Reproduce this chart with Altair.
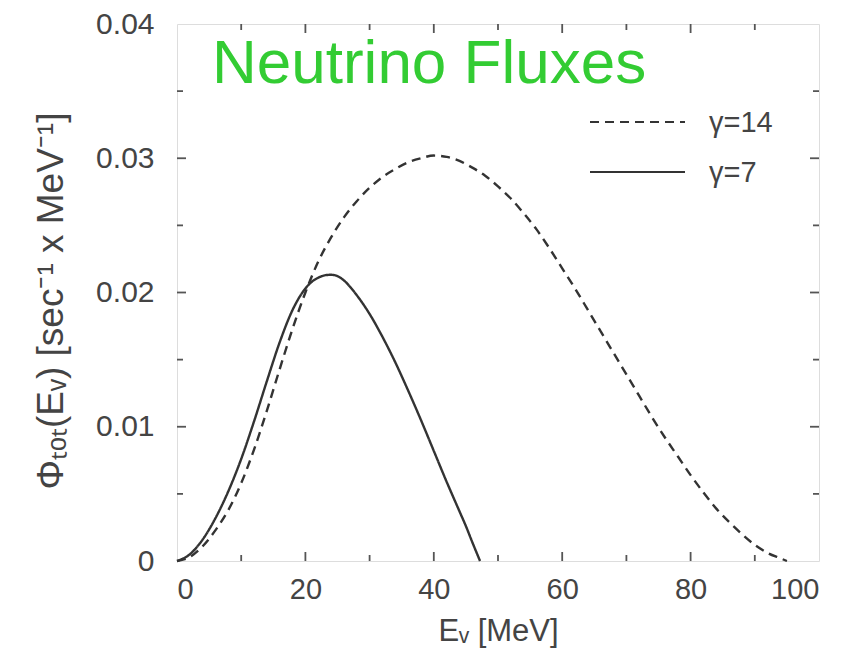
import altair as alt
import pandas as pd

# ---- data ----
energy_g14 = [0, 2, 4, 6, 8, 10, 12, 14, 16, 18, 20, 22, 24, 26, 28, 30, 32, 34, 36, 38, 40,
              42, 44, 46, 48, 50, 52, 54, 56, 58, 60, 62, 64, 66, 68, 70, 72, 74, 76, 78, 80,
              82, 84, 86, 88, 90, 92, 94, 95]
flux_g14 = [0.0, 0.0003, 0.0011, 0.0023, 0.0038, 0.0058, 0.0083, 0.0112, 0.0143, 0.0173, 0.0200,
            0.0223, 0.0241, 0.0256, 0.0268, 0.0278, 0.0286, 0.0292, 0.0297, 0.0300, 0.0302,
            0.0301, 0.0298, 0.0293, 0.0287, 0.0279, 0.0270, 0.0259, 0.0247, 0.0233, 0.0218,
            0.0203, 0.0187, 0.0171, 0.0155, 0.0139, 0.0123, 0.0107, 0.0092, 0.0078, 0.0064,
            0.0051, 0.0039, 0.0029, 0.0020, 0.0012, 0.0006, 0.0002, 0.0]

energy_g7 = [0, 2, 4, 6, 8, 10, 12, 14, 16, 18, 19, 20, 21, 22, 23, 24, 25, 26, 27, 28, 30, 32,
             34, 36, 38, 40, 42, 44, 45, 46, 47.2]
flux_g7 = [0.0, 0.0005, 0.0016, 0.0032, 0.0052, 0.0076, 0.0104, 0.0134, 0.0163, 0.0187, 0.0196,
           0.0203, 0.0208, 0.0211, 0.02128, 0.02132, 0.02122, 0.0209, 0.0204, 0.0198, 0.0184,
           0.0167, 0.0148, 0.0127, 0.0105, 0.0082, 0.0059, 0.0037, 0.0026, 0.0014, 0.0]

series_labels = ["γ=14", "γ=7"]
x_tick_labels = [0, 20, 40, 60, 80, 100]
y_tick_labels = [0, 0.01, 0.02, 0.03, 0.04]
x_major_ticks = [20, 40, 60, 80]
x_minor_ticks = [10, 30, 50, 70, 90]
y_major_ticks = [0.01, 0.02, 0.03]
y_minor_ticks = [0.005, 0.015, 0.025, 0.035]

W, H = 642, 537
LINE = "#333333"
FRAME = "#555555"
TXT = "#444444"
FONT = "Liberation Sans"

df = pd.concat([
    pd.DataFrame({"E": energy_g14, "flux": flux_g14, "series": series_labels[0]}),
    pd.DataFrame({"E": energy_g7, "flux": flux_g7, "series": series_labels[1]}),
])

xscale = alt.Scale(domain=[0, 100], nice=False, zero=False)
yscale = alt.Scale(domain=[0, 0.04], nice=False)

x_axis = alt.Axis(values=x_tick_labels, ticks=False, domain=False, grid=False,
                  labelFontSize=29, labelFont=FONT, labelColor=TXT, labelPadding=14,
                  title="Eᵥ [MeV]", titleFont=FONT, titleFontSize=31, titleFontWeight="normal",
                  titleColor=TXT, titleX=W / 2, titleY=79, titleBaseline="alphabetic")
y_axis = alt.Axis(values=y_tick_labels, ticks=False, domain=False, grid=False,
                  labelFontSize=30, labelFont=FONT, labelColor=TXT, labelPadding=23,
                  labelExpr="datum.value == 0 ? '0' : format(datum.value, '.2f')",
                  title="Φₜₒₜ(Eᵥ) [sec⁻¹ x MeV⁻¹]", titleFont=FONT, titleFontSize=37,
                  titleFontWeight="normal", titleColor=TXT, titleAngle=-90,
                  titleX=-115, titleY=H / 2 + 8, titleBaseline="alphabetic")

lines = alt.Chart(df).mark_line(color=LINE, strokeWidth=2.4, interpolate="monotone").encode(
    x=alt.X("E:Q", scale=xscale, axis=x_axis),
    y=alt.Y("flux:Q", scale=yscale, axis=y_axis),
    strokeDash=alt.StrokeDash("series:N", scale=alt.Scale(domain=series_labels,
                                                          range=[[9, 6], [1, 0]]), legend=None),
)


def xticks(vals, y0, y1):
    return alt.Chart(pd.DataFrame({"t": vals})).mark_rule(color=FRAME, strokeWidth=1.8).encode(
        x=alt.X("t:Q", scale=xscale), y=alt.value(y0), y2=alt.value(y1))


def yticks(vals, x0, x1):
    return alt.Chart(pd.DataFrame({"t": vals})).mark_rule(color=FRAME, strokeWidth=1.8).encode(
        y=alt.Y("t:Q", scale=yscale), x=alt.value(x0), x2=alt.value(x1))


ticks = [
    xticks(x_major_ticks, H, H - 9), xticks(x_minor_ticks, H, H - 6),
    xticks(x_major_ticks, 0, 9), xticks(x_minor_ticks, 0, 6),
    yticks(y_major_ticks, 0, 9), yticks(y_minor_ticks, 0, 6),
    yticks(y_major_ticks, W, W - 9), yticks(y_minor_ticks, W, W - 6),
]

leg = []
for i, (lab, dash) in enumerate(zip(series_labels, [[9, 6], [1, 0]])):
    d = pd.DataFrame({"label": [lab]})
    yy = 98 + 50 * i
    leg.append(alt.Chart(d).mark_rule(color=LINE, strokeWidth=2.2, strokeDash=dash).encode(
        x=alt.value(413), x2=alt.value(508), y=alt.value(yy)))
    leg.append(alt.Chart(d).mark_text(align="left", baseline="middle", font=FONT, fontSize=29,
                                      color=TXT).encode(
        x=alt.value(532), y=alt.value(yy + 1), text="label:N"))

title_df = pd.DataFrame({"t": ["Neutrino Fluxes"]})
title = alt.Chart(title_df).mark_text(align="left", baseline="alphabetic", font=FONT,
                                      fontSize=62, color="#33cc33").encode(
    x=alt.value(35), y=alt.value(59), text="t:N")

chart = alt.layer(lines, *ticks, *leg, title).properties(
    width=W, height=H,
    autosize=alt.AutoSizeParams(type="none"),
    padding={"left": 169, "top": 16, "right": 18, "bottom": 93},
).configure_view(stroke=FRAME, strokeWidth=2).configure(background="white")

chart.save("out.html", embed_options={"renderer": "svg", "actions": False})
